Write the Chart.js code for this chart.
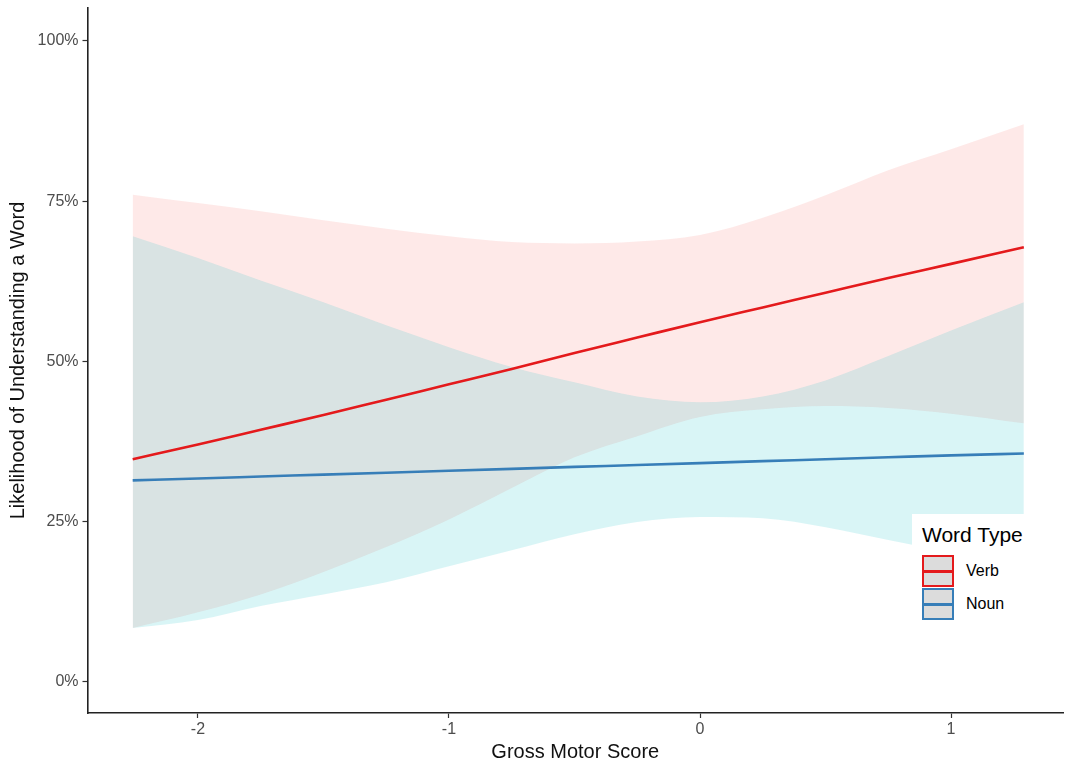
<!DOCTYPE html>
<html>
<head>
<meta charset="utf-8">
<script src="https://cdn.jsdelivr.net/npm/chart.js@4.4.1/dist/chart.umd.min.js"></script>
<style>
  html, body { margin: 0; padding: 0; background: #fff; }
  #wrap { position: relative; width: 1065px; height: 766px; }
  #legend { position: absolute; left: 912px; top: 514px; width: 118px; height: 112px; background: #fff;
            font-family: "Liberation Sans", Arial, sans-serif; color: #000; }
  #legend .title { position: absolute; left: 10px; top: 9px; font-size: 21px; line-height: 24px; white-space: nowrap; }
  #legend .item { position: absolute; left: 10px; height: 32px; width: 100px; }
  #legend .key { position: absolute; left: 0; top: 0; width: 28px; height: 28px; border: 2px solid; background: #dcdcdc; }
  #legend .key i { position: absolute; left: 0; right: 0; top: 12.5px; height: 3px; }
  #legend .lab { position: absolute; left: 44px; top: 0; font-size: 16px; line-height: 32px; white-space: nowrap; }
</style>
</head>
<body>
<div id="wrap">
  <canvas id="c" width="1065" height="766"></canvas>
  <div id="legend"></div>
</div>
<script>
// ---- data ----
const xs        = [-2.26, -2.0, -1.75, -1.5, -1.25, -1.0, -0.75, -0.5, -0.25, 0.0, 0.25, 0.5, 0.75, 1.0, 1.29];
const verbFit   = [34.7, 37.0, 39.3, 41.6, 44.0, 46.4, 48.8, 51.3, 53.7, 56.1, 58.4, 60.7, 63.0, 65.2, 67.8];
const verbUpper = [76.0, 74.7, 73.4, 72.0, 70.7, 69.5, 68.6, 68.4, 68.7, 69.7, 72.4, 75.9, 79.8, 83.1, 87.0];
const verbLower = [8.35, 10.8, 13.6, 17.1, 21.0, 25.3, 30.2, 35.0, 38.3, 41.3, 42.5, 43.0, 42.7, 41.8, 40.3];
const nounFit   = [31.4, 31.7, 32.0, 32.3, 32.6, 32.9, 33.2, 33.5, 33.8, 34.1, 34.4, 34.7, 35.0, 35.3, 35.6];
const nounUpper = [69.5, 66.1, 62.6, 59.2, 55.6, 52.2, 49.1, 46.7, 44.5, 43.6, 44.5, 47.0, 50.8, 54.8, 59.2];
const nounLower = [8.35, 9.6, 11.8, 13.6, 15.5, 18.0, 20.5, 23.0, 24.9, 25.7, 25.5, 24.1, 22.1, 20.2, 18.0];
const seriesNames = ["Verb", "Noun"];
const xTicks = [-2, -1, 0, 1];
const yTicks = [0, 25, 50, 75, 100];
const xTitle = "Gross Motor Score";
const yTitle = "Likelihood of Understanding a Word";
const legendTitle = "Word Type";

// ---- styling ----
const lineColors = ["#E41A1C", "#377EB8"];
const fillColors = ["rgba(248,118,109,0.16)", "rgba(0,191,196,0.15)"];
const FONT = "'Liberation Sans', Arial, sans-serif";

const pts = arr => xs.map((x, i) => ({ x: x, y: arr[i] }));
const band = { borderColor: "rgba(0,0,0,0)", borderWidth: 0, pointRadius: 0, cubicInterpolationMode: "monotone" };

const datasets = [
  { label: seriesNames[0], data: pts(verbFit), borderColor: lineColors[0], borderWidth: 2.6, pointRadius: 0, fill: false, cubicInterpolationMode: "monotone" },
  { label: seriesNames[1], data: pts(nounFit), borderColor: lineColors[1], borderWidth: 2.6, pointRadius: 0, fill: false, cubicInterpolationMode: "monotone" },
  Object.assign({ label: "nounUpper", data: pts(nounUpper), fill: "+1", backgroundColor: fillColors[1] }, band),
  Object.assign({ label: "nounLower", data: pts(nounLower), fill: false }, band),
  Object.assign({ label: "verbUpper", data: pts(verbUpper), fill: "+1", backgroundColor: fillColors[0] }, band),
  Object.assign({ label: "verbLower", data: pts(verbLower), fill: false }, band)
];

new Chart(document.getElementById("c"), {
  type: "line",
  data: { datasets: datasets },
  options: {
    responsive: false,
    animation: false,
    events: [],
    layout: { padding: { top: 8, right: 2, left: 0, bottom: 0 } },
    plugins: {
      legend: { display: false },
      tooltip: { enabled: false },
      filler: { drawTime: "beforeDatasetsDraw" }
    },
    scales: {
      x: {
        type: "linear",
        min: -2.44, max: 1.446,
        afterBuildTicks: s => { s.ticks = xTicks.map(v => ({ value: v })); },
        afterFit: s => { s.height = 53; },
        grid: { display: true, drawOnChartArea: false, drawTicks: true, tickLength: 5, tickColor: "#333", tickWidth: 1.2 },
        border: { display: true, color: "#222", width: 1.6 },
        ticks: { color: "#4d4d4d", font: { family: FONT, size: 16 }, padding: 2, maxRotation: 0,
                 callback: v => String(v) },
        title: { display: true, text: xTitle, color: "#111", font: { family: FONT, size: 20 }, padding: { top: 2, bottom: 2 } }
      },
      y: {
        type: "linear",
        min: -4.92, max: 105.15,
        afterBuildTicks: s => { s.ticks = yTicks.map(v => ({ value: v })); },
        afterFit: s => { s.width = 87.5; s.paddingTop = 0; s.paddingBottom = 0; },
        grid: { display: true, drawOnChartArea: false, drawTicks: true, tickLength: 5, tickColor: "#333", tickWidth: 1.2 },
        border: { display: true, color: "#222", width: 1.6 },
        ticks: { color: "#4d4d4d", font: { family: FONT, size: 16, lineHeight: 0.6 }, padding: 4,
                 callback: v => v + "%" },
        title: { display: true, text: yTitle, color: "#111", font: { family: FONT, size: 20 }, padding: { top: 6, bottom: 6 } }
      }
    }
  }
});

// ---- legend (HTML text) ----
const lg = document.getElementById("legend");
const t = document.createElement("div");
t.className = "title"; t.textContent = legendTitle; lg.appendChild(t);
seriesNames.forEach((name, i) => {
  const it = document.createElement("div");
  it.className = "item"; it.style.top = (41 + i * 33) + "px";
  const k = document.createElement("div");
  k.className = "key"; k.style.borderColor = lineColors[i];
  const ln = document.createElement("i"); ln.style.background = lineColors[i];
  k.appendChild(ln);
  const lb = document.createElement("div");
  lb.className = "lab"; lb.textContent = name;
  it.appendChild(k); it.appendChild(lb);
  lg.appendChild(it);
});
</script>
</body>
</html>
